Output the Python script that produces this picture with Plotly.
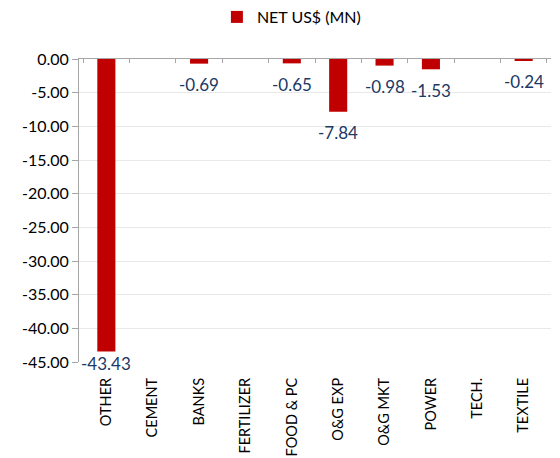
import plotly.graph_objects as go

categories = ["OTHER", "CEMENT", "BANKS", "FERTILIZER", "FOOD & PC",
              "O&G EXP", "O&G MKT", "POWER", "TECH.", "TEXTILE"]
net_usd_mn = [-43.43, None, -0.69, None, -0.65, -7.84, -0.98, -1.53, None, -0.24]
y_tick_vals = [0, -5, -10, -15, -20, -25, -30, -35, -40, -45]
y_tick_text = ["0.00", "-5.00", "-10.00", "-15.00", "-20.00",
               "-25.00", "-30.00", "-35.00", "-40.00", "-45.00"]

FONT = "Lato, 'Liberation Sans', sans-serif"
AXIS_GRAY = "#a6a6a6"
Y_MIN = -45

fig = go.Figure()
fig.add_trace(go.Bar(
    x=categories, y=net_usd_mn, name="NET US$ (MN)",
    marker=dict(color="#C00000", line=dict(width=0)),
))
# invisible trace for the top (zero-line) category axis
fig.add_trace(go.Scatter(
    x=categories, y=[0] * len(categories), xaxis="x2", mode="markers",
    marker=dict(opacity=0), showlegend=False, hoverinfo="skip",
))

# data labels: below bar end, kept within the chart's bottom
annotations = []
for c, v in zip(categories, net_usd_mn):
    if v is None:
        continue
    want = v - 3.1
    clipped = want < Y_MIN
    annotations.append(dict(
        x=c, y=Y_MIN if clipped else want, xref="x", yref="y", text=f"{v:.2f}",
        showarrow=False, xanchor="center", yanchor="middle",
        yshift=-1 if clipped else 0,
        font=dict(family=FONT, size=17, color="#203864"),
    ))

fig.update_layout(
    width=560, height=458,
    margin=dict(l=79, r=9, t=59, b=96),
    paper_bgcolor="white", plot_bgcolor="white",
    font=dict(family=FONT, size=16, color="#000000"),
    bargap=0.61,
    showlegend=True,
    annotations=annotations,
    legend=dict(orientation="h", x=0.45, xanchor="center", y=1.0, yanchor="top",
                yref="container", font=dict(size=16, color="#000000"),
                itemwidth=30, bgcolor="rgba(0,0,0,0)"),
    xaxis=dict(type="category", categoryorder="array", categoryarray=categories,
               showline=False, ticks="", showgrid=False, tickangle=-90,
               ticklabelstandoff=12,
               automargin=False, tickfont=dict(size=14.5, color="#000000")),
    xaxis2=dict(type="category", categoryorder="array", categoryarray=categories,
                overlaying="x", side="top", anchor="y", showline=True,
                linecolor=AXIS_GRAY, linewidth=1, ticks="inside", ticklen=4,
                tickcolor=AXIS_GRAY, tickson="boundaries", showticklabels=False,
                showgrid=False, matches="x", automargin=False),
    yaxis=dict(range=[Y_MIN, 0], tickvals=y_tick_vals, ticktext=y_tick_text,
               showline=True, linecolor=AXIS_GRAY, linewidth=1,
               ticks="outside", ticklen=6, tickcolor=AXIS_GRAY,
               showgrid=True, gridcolor="#e8e8e8", gridwidth=1, zeroline=False,
               automargin=False, tickfont=dict(size=16, color="#000000")),
)

fig.write_html("out.html")
